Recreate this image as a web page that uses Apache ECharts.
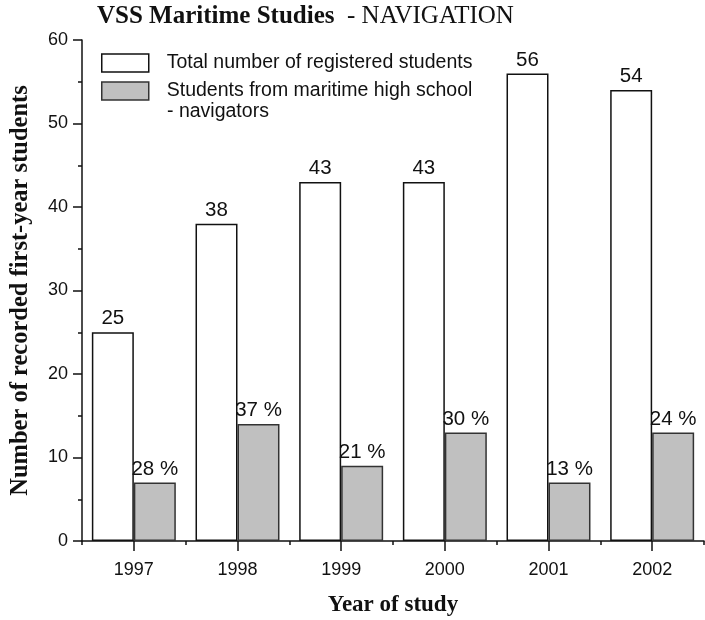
<!DOCTYPE html>
<html><head><meta charset="utf-8">
<script src="https://cdn.jsdelivr.net/npm/echarts@6/dist/echarts.min.js"></script>
<style>html,body{margin:0;padding:0;background:#fff}#c{width:705px;height:620px}</style>
</head><body><div id="c"></div>
<script>
const years = ['1997','1998','1999','2000','2001','2002'];
const totalStudents = [25, 38, 43, 43, 56, 54];
const navigators = [7, 14, 9, 13, 7, 13];
const navigatorPct = ['28 %', '37 %', '21 %', '30 %', '13 %', '24 %'];
const seriesNames = ['Total number of registered students', 'Students from maritime high school'];
const legendExtraLine = '- navigators';

const chart = echarts.init(document.getElementById('c'), null, {renderer:'canvas'});
const sans = 'Liberation Sans';
const serif = 'Liberation Serif';
chart.setOption({
  animation:false,
  backgroundColor:'#fff',
  title:{
    text:'{b|VSS Maritime Studies}{r|  - NAVIGATION}',
    left:97, top:4, padding:0,
    textStyle:{rich:{
      b:{fontFamily:serif,fontWeight:'bold',fontSize:25,color:'#111'},
      r:{fontFamily:serif,fontWeight:'normal',fontSize:25,color:'#111'}
    }}
  },
  legend:{
    orient:'vertical', left:101, top:53, padding:0, itemWidth:47, itemHeight:18, itemGap:8,
    icon:'rect', selectedMode:false,
    textStyle:{fontFamily:sans,fontSize:19.5,color:'#111',padding:[0,0,0,13]},
    data:[
      {name:seriesNames[0], itemStyle:{color:'#fff',borderColor:'#111',borderWidth:1.5}},
      {name:seriesNames[1], itemStyle:{color:'#c0c0c0',borderColor:'#333',borderWidth:1.5}}
    ]
  },
  graphic:[{type:'text', left:167, top:102, style:{text:legendExtraLine, fontFamily:sans, fontSize:19.5, fill:'#111'}}],
  grid:{left:82, right:1, top:40, bottom:79, containLabel:false, outerBoundsMode:'none'},
  xAxis:[{
    type:'category', data:years,
    name:'Year of study', nameLocation:'middle', nameGap:53,
    nameTextStyle:{fontFamily:serif,fontWeight:'bold',fontSize:23,color:'#111'},
    axisLine:{lineStyle:{color:'#111',width:1.5}},
    axisTick:{show:true,length:10,alignWithLabel:true,lineStyle:{color:'#111',width:1.5}},
    axisLabel:{fontFamily:sans,fontSize:18,color:'#111',margin:20}
  },{
    type:'category', data:years, position:'bottom',
    axisLine:{show:false},
    axisTick:{show:true,length:4,interval:0,lineStyle:{color:'#111',width:1.5}},
    axisLabel:{show:false}
  }],
  yAxis:{
    type:'value', min:0, max:60, interval:10,
    name:'Number of recorded first-year students', nameLocation:'middle', nameGap:49,
    nameTextStyle:{fontFamily:serif,fontWeight:'bold',fontSize:24.5,color:'#111'},
    axisLine:{show:true,lineStyle:{color:'#111',width:1.5}},
    axisTick:{show:true,length:9,lineStyle:{color:'#111',width:1.5}},
    minorTick:{show:true,splitNumber:2,length:4,lineStyle:{color:'#111',width:1.5}},
    splitLine:{show:false},
    axisLabel:{fontFamily:sans,fontSize:18,color:'#111',margin:14}
  },
  series:[
    {name:seriesNames[0], type:'bar', data:totalStudents, barGap:'0%', barCategoryGap:'19%',
     itemStyle:{color:'#fff',borderColor:'#111',borderWidth:1.5},
     label:{show:true,position:'top',distance:3,fontFamily:sans,fontSize:20.5,color:'#111'}},
    {name:seriesNames[1], type:'bar', data:navigators,
     itemStyle:{color:'#c0c0c0',borderColor:'#333',borderWidth:1.5},
     label:{show:true,position:'top',distance:3,fontFamily:sans,fontSize:20.5,color:'#111',
       formatter:(p)=>navigatorPct[p.dataIndex]}}
  ]
});
</script></body></html>
